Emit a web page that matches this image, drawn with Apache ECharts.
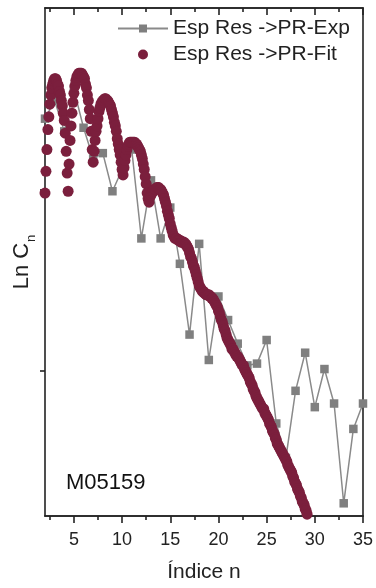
<!DOCTYPE html>
<html><head><meta charset="utf-8">
<script src="https://cdn.jsdelivr.net/npm/echarts@6/dist/echarts.min.js"></script>
<style>html,body{margin:0;padding:0;background:#fff}#c{width:376px;height:588px}</style>
</head><body><div id="c"></div>
<script>
const xTickValues = [5, 10, 15, 20, 25, 30, 35];
const xMinorTickValues = [2.5, 7.5, 12.5, 17.5, 22.5, 27.5, 32.5];
const yTickValues = [-3, -4];

const expN = [2,3,4,5,6,7,8,9,10,11,12,13,14,15,16,17,18,19,20,21,22,23,24,25,26,27,28,29,30,31,32,33,34,35];
const expLnC = [-2.61,-2.51,-2.68,-2.45,-2.66,-2.83,-2.80,-3.01,-2.89,-2.78,-3.27,-2.95,-3.27,-3.10,-3.41,-3.80,-3.30,-3.94,-3.59,-3.72,-3.85,-3.97,-3.96,-3.83,-4.29,-4.48,-4.11,-3.90,-4.20,-3.99,-4.18,-4.73,-4.32,-4.18];

const fitN = [
2.0,2.1,2.2,2.3,2.4,2.5,2.6,2.7,2.8,2.9,3.0,3.1,3.2,3.3,3.4,3.5,3.6,3.7,3.8,3.9,
4.0,4.1,4.2,4.3,4.4,4.5,4.6,4.7,4.8,4.9,5.0,5.1,5.2,5.3,5.4,5.5,5.6,5.7,5.8,5.9,
6.0,6.1,6.2,6.3,6.4,6.5,6.6,6.7,6.8,6.9,7.0,7.1,7.2,7.3,7.4,7.5,7.6,7.7,7.8,7.9,
8.0,8.1,8.2,8.3,8.4,8.5,8.6,8.7,8.8,8.9,9.0,9.1,9.2,9.3,9.4,9.5,9.6,9.7,9.8,9.9,
10.0,10.1,10.2,10.3,10.4,10.5,10.6,10.7,10.8,10.9,11.0,11.1,11.2,11.3,11.4,11.5,11.6,11.7,11.8,11.9,
12.0,12.1,12.2,12.3,12.4,12.5,12.6,12.7,12.8,12.9,13.0,13.1,13.2,13.3,13.4,13.5,13.6,13.7,13.8,13.9,
14.0,14.1,14.2,14.3,14.4,14.5,14.6,14.7,14.8,14.9,15.0,15.1,15.2,15.3,15.4,15.5,15.6,15.7,15.8,15.9,
16.0,16.1,16.2,16.3,16.4,16.5,16.6,16.7,16.8,16.9,17.0,17.1,17.2,17.3,17.4,17.5,17.6,17.7,17.8,17.9,
18.0,18.1,18.2,18.3,18.4,18.5,18.6,18.7,18.8,18.9,19.0,19.1,19.2,19.3,19.4,19.5,19.6,19.7,19.8,19.9,
20.0,20.1,20.2,20.3,20.4,20.5,20.6,20.7,20.8,20.9,21.0,21.1,21.2,21.3,21.4,21.5,21.6,21.7,21.8,21.9,
22.0,22.1,22.2,22.3,22.4,22.5,22.6,22.7,22.8,22.9,23.0,23.1,23.2,23.3,23.4,23.5,23.6,23.7,23.8,23.9,
24.0,24.1,24.2,24.3,24.4,24.5,24.6,24.7,24.8,24.9,25.0,25.1,25.2,25.3,25.4,25.5,25.6,25.7,25.8,25.9,
26.0,26.1,26.2,26.3,26.4,26.5,26.6,26.7,26.8,26.9,27.0,27.1,27.2,27.3,27.4,27.5,27.6,27.7,27.8,27.9,
28.0,28.1,28.2,28.3,28.4,28.5,28.6,28.7,28.8,28.9,29.0,29.1,29.2,29.3
];
const fitLnC = [
-3.02,-2.90,-2.78,-2.67,-2.60,-2.53,-2.48,-2.44,-2.42,-2.40,-2.39,-2.39,-2.40,-2.42,-2.43,-2.46,-2.48,-2.51,-2.54,-2.58,
-2.62,-2.69,-2.79,-2.91,-3.01,-2.86,-2.73,-2.65,-2.58,-2.52,-2.47,-2.43,-2.40,-2.38,-2.37,-2.36,-2.36,-2.36,-2.36,-2.37,
-2.38,-2.39,-2.42,-2.44,-2.48,-2.51,-2.56,-2.61,-2.68,-2.78,-2.85,-2.79,-2.73,-2.68,-2.65,-2.61,-2.57,-2.55,-2.53,-2.52,
-2.51,-2.51,-2.50,-2.50,-2.51,-2.51,-2.52,-2.53,-2.54,-2.56,-2.58,-2.60,-2.63,-2.65,-2.68,-2.72,-2.75,-2.78,-2.81,-2.85,
-2.89,-2.92,-2.88,-2.84,-2.81,-2.78,-2.76,-2.75,-2.74,-2.74,-2.74,-2.74,-2.74,-2.74,-2.75,-2.75,-2.76,-2.77,-2.78,-2.79,
-2.81,-2.83,-2.86,-2.89,-2.93,-2.97,-3.02,-3.05,-3.07,-3.04,-3.03,-3.02,-3.01,-3.00,-3.00,-3.00,-2.99,-2.99,-2.99,-3.00,
-3.00,-3.01,-3.02,-3.03,-3.05,-3.07,-3.09,-3.12,-3.14,-3.16,-3.19,-3.21,-3.23,-3.25,-3.26,-3.27,-3.27,-3.27,-3.28,-3.28,
-3.28,-3.29,-3.29,-3.29,-3.29,-3.30,-3.30,-3.31,-3.32,-3.33,-3.35,-3.37,-3.38,-3.40,-3.42,-3.43,-3.45,-3.47,-3.49,-3.51,
-3.53,-3.54,-3.55,-3.56,-3.56,-3.57,-3.57,-3.58,-3.58,-3.58,-3.58,-3.59,-3.59,-3.60,-3.60,-3.61,-3.62,-3.63,-3.64,-3.65,
-3.67,-3.68,-3.70,-3.72,-3.73,-3.75,-3.77,-3.78,-3.80,-3.82,-3.83,-3.84,-3.85,-3.86,-3.88,-3.88,-3.89,-3.90,-3.91,-3.92,
-3.92,-3.93,-3.94,-3.95,-3.96,-3.97,-3.97,-3.99,-4.00,-4.01,-4.02,-4.03,-4.04,-4.06,-4.07,-4.08,-4.10,-4.11,-4.12,-4.14,
-4.15,-4.16,-4.17,-4.18,-4.19,-4.20,-4.21,-4.21,-4.23,-4.24,-4.25,-4.26,-4.27,-4.29,-4.30,-4.31,-4.33,-4.34,-4.35,-4.37,
-4.38,-4.40,-4.41,-4.42,-4.43,-4.44,-4.45,-4.46,-4.47,-4.48,-4.49,-4.50,-4.52,-4.53,-4.54,-4.55,-4.56,-4.58,-4.59,-4.61,
-4.62,-4.63,-4.65,-4.66,-4.67,-4.69,-4.70,-4.72,-4.73,-4.74,-4.76,-4.77,-4.79,-4.81
];

const seriesNames = ['Esp Res ->PR-Exp', 'Esp Res ->PR-Fit'];
const FONT = '"Liberation Sans", Arial, sans-serif';
const AX = {color: '#222', width: 1.6};

function xAx(pos, ticks, len, inside, extra) {
  return Object.assign({
    type: 'value', min: 2, max: 35, position: pos,
    axisLine: {show: true, onZero: false, lineStyle: AX},
    axisTick: {show: true, customValues: ticks, length: len, inside: inside, lineStyle: AX},
    axisLabel: {show: false},
    splitLine: {show: false}
  }, extra || {});
}

const chart = echarts.init(document.getElementById('c'), null, {renderer: 'canvas'});
chart.setOption({
  animation: false,
  backgroundColor: '#fff',
  textStyle: {fontFamily: FONT},
  grid: {left: 45, right: 11, top: 8, bottom: 68, containLabel: false},
  legend: {
    orient: 'vertical', left: 117, top: 18, padding: 0,
    itemWidth: 50, itemHeight: 10, itemGap: 5,
    textStyle: {fontSize: 21, color: '#222', fontFamily: FONT},
    data: seriesNames
  },
  xAxis: [
    xAx('bottom', xTickValues, 7, false, {
      axisLabel: {show: true, customValues: xTickValues, fontSize: 18, color: '#222', margin: 15, fontFamily: FONT},
      name: 'Índice n', nameLocation: 'middle', nameGap: 46,
      nameTextStyle: {fontSize: 21, color: '#222', fontFamily: FONT}
    }),
    xAx('bottom', xMinorTickValues, 4, false),
    xAx('top', xTickValues, 7, true),
    xAx('top', xMinorTickValues, 4, true)
  ],
  yAxis: [
    {
      type: 'value', min: -4.8, max: -2, position: 'left',
      axisLine: {show: true, onZero: false, lineStyle: AX},
      axisTick: {show: true, customValues: yTickValues, length: 5, inside: false, lineStyle: AX},
      axisLabel: {show: false},
      splitLine: {show: false},
      name: '{a|Ln C}{b|n}', nameLocation: 'middle', nameGap: 9, nameRotate: 90,
      nameTextStyle: {
        color: '#222',
        rich: {
          a: {fontSize: 22, color: '#222', fontFamily: FONT, verticalAlign: 'top', lineHeight: 25},
          b: {fontSize: 13, color: '#222', fontFamily: FONT, verticalAlign: 'top', lineHeight: 14, padding: [14, 0, 0, 1]}
        }
      }
    },
    {
      type: 'value', min: -4.8, max: -2, position: 'right',
      axisLine: {show: true, onZero: false, lineStyle: AX},
      axisTick: {show: false}, axisLabel: {show: false}, splitLine: {show: false}
    }
  ],
  graphic: [{
    type: 'text', left: 66, top: 472,
    style: {text: 'M05159', font: '22px "Liberation Sans", Arial, sans-serif', fill: '#111'}
  }],
  series: [
    {
      name: seriesNames[0], type: 'line', xAxisIndex: 0, yAxisIndex: 0,
      data: expN.map((n, i) => [n, expLnC[i]]),
      symbol: 'rect', symbolSize: 8.5, showSymbol: true,
      itemStyle: {color: '#7f7f7f'},
      lineStyle: {color: '#8a8a8a', width: 1.5},
      z: 2
    },
    {
      name: seriesNames[1], type: 'scatter', xAxisIndex: 0, yAxisIndex: 0,
      data: fitN.map((n, i) => [n, fitLnC[i]]),
      symbol: 'circle', symbolSize: 11,
      itemStyle: {color: '#7b1f3d', opacity: 1},
      clip: true,
      z: 3
    }
  ]
});
</script>
</body></html>
